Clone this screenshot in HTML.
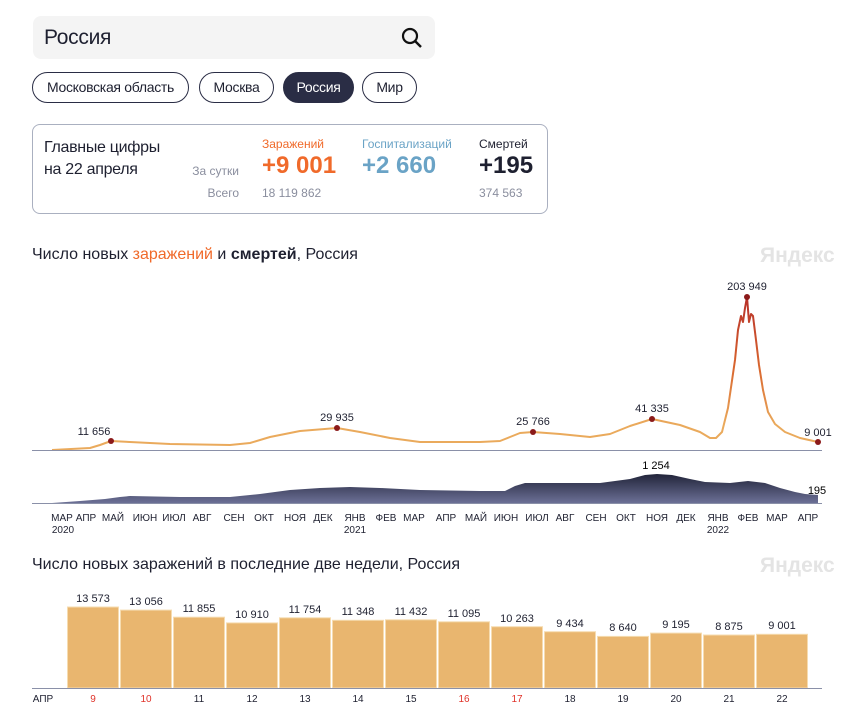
<!DOCTYPE html>
<html><head><meta charset="utf-8"><style>
body{margin:0;width:860px;height:711px;background:#fff;font-family:"Liberation Sans","DejaVu Sans",sans-serif;position:relative;overflow:hidden;color:#1e2030}
.abs{position:absolute}
.chip{position:absolute;top:72px;height:29px;border:1.5px solid #2a2d45;border-radius:16px;font-size:14px;letter-spacing:-0.3px;line-height:29px;text-align:center;box-sizing:content-box}
</style></head><body>
<div class="abs" style="left:33px;top:16px;width:402px;height:43px;background:#f4f4f4;border-radius:8px"></div>
<div class="abs" style="left:44px;top:26px;font-size:21px;letter-spacing:-0.3px">Россия</div>
<svg class="abs" style="left:400px;top:26px" width="24" height="24"><circle cx="10" cy="10" r="7" fill="none" stroke="#111" stroke-width="2.2"/><line x1="15" y1="15" x2="21" y2="21" stroke="#111" stroke-width="2.4"/></svg>
<div class="chip" style="left:32px;width:155px">Московская область</div>
<div class="chip" style="left:199px;width:73px">Москва</div>
<div class="chip" style="left:283px;width:69px;background:#2a2d45;color:#fff">Россия</div>
<div class="chip" style="left:362px;width:53px">Мир</div>
<div class="abs" style="left:32px;top:124px;width:514px;height:88px;border:1px solid #aab0c0;border-radius:8px"></div>
<div class="abs" style="left:44px;top:137px;font-size:16px;line-height:22px;letter-spacing:-0.3px">Главные цифры<br>на 22 апреля</div>
<div class="abs" style="left:170px;top:164px;width:69px;text-align:right;font-size:12px;color:#8a8e9e">За сутки</div>
<div class="abs" style="left:170px;top:186px;width:69px;text-align:right;font-size:12px;color:#8a8e9e">Всего</div>
<div class="abs" style="left:262px;top:137px;font-size:12px;color:#f06a2a">Заражений</div>
<div class="abs" style="left:262px;top:152px;font-size:24px;font-weight:bold;color:#f06a2a">+9 001</div>
<div class="abs" style="left:262px;top:186px;font-size:12px;color:#8a8e9e">18 119 862</div>
<div class="abs" style="left:362px;top:137px;font-size:12px;color:#6aa3c6">Госпитализаций</div>
<div class="abs" style="left:362px;top:152px;font-size:24px;font-weight:bold;color:#6aa3c6">+2 660</div>
<div class="abs" style="left:479px;top:137px;font-size:12px;color:#1e2030">Смертей</div>
<div class="abs" style="left:479px;top:152px;font-size:24px;font-weight:bold;color:#1e2030">+195</div>
<div class="abs" style="left:479px;top:186px;font-size:12px;color:#8a8e9e">374 563</div>

<div class="abs" style="left:32px;top:246px;font-size:16px">Число новых <span style="color:#f06a2a">заражений</span> и <b>смертей</b>, Россия</div>
<div class="abs" style="left:760px;top:244px;font-size:21px;font-weight:bold;color:#e4e4e4">Яндекс</div>
<div class="abs" style="left:32px;top:556px;font-size:16px">Число новых заражений в последние две недели, Россия</div>
<div class="abs" style="left:760px;top:554px;font-size:21px;font-weight:bold;color:#e4e4e4">Яндекс</div>

<svg class="abs" style="left:0;top:0" width="860" height="711" font-family="Liberation Sans, DejaVu Sans, sans-serif">
<defs>
<linearGradient id="lg" gradientUnits="userSpaceOnUse" x1="0" y1="300" x2="0" y2="425"><stop offset="0" stop-color="#b8322a"/><stop offset="0.55" stop-color="#d9672f"/><stop offset="1" stop-color="#eaaa5c"/></linearGradient>
<linearGradient id="dg" gradientUnits="userSpaceOnUse" x1="0" y1="472" x2="0" y2="503"><stop offset="0" stop-color="#1c1f33"/><stop offset="1" stop-color="#6c7096"/></linearGradient>
</defs>
<polyline fill="none" stroke="url(#lg)" stroke-width="2" stroke-linejoin="round" points="52,450 90,448 100,445 111,441 130,442 170,444 230,445 250,443 270,437 300,431 337,428 360,432 390,438 420,442 480,442 500,441 510,437 520,433 533,432 560,434 590,437 610,434 630,426 652,419 680,425 700,432 710,438 716,438 722,432 728,408 735,360 738,330 741,316 743,322 745,308 747,297 749,322 751,314 753,316 756,340 759,365 763,390 768,412 775,424 785,432 800,438 818,442"/>
<line x1="32" y1="450.5" x2="822" y2="450.5" stroke="#8a90a8" stroke-width="1"/>
<g fill="#8b1a1a"><circle cx="111" cy="441" r="3"/><circle cx="337" cy="428" r="3"/><circle cx="533" cy="432" r="3"/><circle cx="652" cy="419" r="3"/><circle cx="747" cy="297" r="3"/><circle cx="818" cy="442" r="3"/></g>
<g font-size="11" text-anchor="middle" fill="#1e2030"><text x="94" y="435">11 656</text><text x="337" y="421">29 935</text><text x="533" y="425">25 766</text><text x="652" y="412">41 335</text><text x="747" y="290">203 949</text><text x="818" y="436">9 001</text></g>
<path fill="url(#dg)" d="M52,503 L80,501 105,499 120,497 130,496 180,497 230,497 260,494 290,490 320,488 350,487 380,488 420,490 480,491 505,491 515,486 525,483 560,483 600,483 630,479 645,475 657,474 672,475 690,479 705,482 730,483 748,481 765,483 780,488 795,492 805,494 818,495 L818,503 Z"/>
<line x1="32" y1="503.5" x2="822" y2="503.5" stroke="#8a90a8" stroke-width="1"/>
<text x="656" y="469" font-size="11" text-anchor="middle">1 254</text>
<text x="817" y="494" font-size="11" text-anchor="middle">195</text>
<g font-size="10" fill="#1e2030" text-anchor="middle">
<text x="62" y="521">МАР</text><text x="86" y="521">АПР</text><text x="113" y="521">МАЙ</text><text x="145" y="521">ИЮН</text><text x="174" y="521">ИЮЛ</text><text x="202" y="521">АВГ</text><text x="234" y="521">СЕН</text><text x="264" y="521">ОКТ</text><text x="295" y="521">НОЯ</text><text x="323" y="521">ДЕК</text><text x="355" y="521">ЯНВ</text><text x="386" y="521">ФЕВ</text><text x="414" y="521">МАР</text><text x="446" y="521">АПР</text><text x="476" y="521">МАЙ</text><text x="506" y="521">ИЮН</text><text x="537" y="521">ИЮЛ</text><text x="565" y="521">АВГ</text><text x="596" y="521">СЕН</text><text x="626" y="521">ОКТ</text><text x="657" y="521">НОЯ</text><text x="686" y="521">ДЕК</text><text x="718" y="521">ЯНВ</text><text x="748" y="521">ФЕВ</text><text x="777" y="521">МАР</text><text x="808" y="521">АПР</text>
<text x="63" y="533">2020</text><text x="355" y="533">2021</text><text x="718" y="533">2022</text></g>

<g fill="#e9b66f" stroke="#f6dcb0" stroke-width="1">
<rect x="67.5" y="607" width="51" height="81"/>
<rect x="120.5" y="610.1" width="51" height="77.9"/>
<rect x="173.5" y="617.2" width="51" height="70.8"/>
<rect x="226.5" y="622.9" width="51" height="65.1"/>
<rect x="279.5" y="617.8" width="51" height="70.2"/>
<rect x="332.5" y="620.3" width="51" height="67.7"/>
<rect x="385.5" y="619.8" width="51" height="68.2"/>
<rect x="438.5" y="621.8" width="51" height="66.2"/>
<rect x="491.5" y="626.7" width="51" height="61.3"/>
<rect x="544.5" y="631.7" width="51" height="56.3"/>
<rect x="597.5" y="636.4" width="51" height="51.6"/>
<rect x="650.5" y="633.1" width="51" height="54.9"/>
<rect x="703.5" y="635" width="51" height="53"/>
<rect x="756.5" y="634.3" width="51" height="53.7"/>
</g>
<line x1="32" y1="688.5" x2="822" y2="688.5" stroke="#8a90a8" stroke-width="1"/>
<g font-size="11" text-anchor="middle" fill="#1e2030">
<text x="93" y="602">13 573</text><text x="146" y="605">13 056</text><text x="199" y="612">11 855</text><text x="252" y="618">10 910</text><text x="305" y="613">11 754</text><text x="358" y="615">11 348</text><text x="411" y="615">11 432</text><text x="464" y="617">11 095</text><text x="517" y="622">10 263</text><text x="570" y="627">9 434</text><text x="623" y="631">8 640</text><text x="676" y="628">9 195</text><text x="729" y="630">8 875</text><text x="782" y="629">9 001</text></g>
<g font-size="10" text-anchor="middle" fill="#1e2030">
<text x="43" y="702">АПР</text>
<text x="93" y="702" fill="#e0332a">9</text><text x="146" y="702" fill="#e0332a">10</text><text x="199" y="702">11</text><text x="252" y="702">12</text><text x="305" y="702">13</text><text x="358" y="702">14</text><text x="411" y="702">15</text><text x="464" y="702" fill="#e0332a">16</text><text x="517" y="702" fill="#e0332a">17</text><text x="570" y="702">18</text><text x="623" y="702">19</text><text x="676" y="702">20</text><text x="729" y="702">21</text><text x="782" y="702">22</text></g>
</svg>
</body></html>
